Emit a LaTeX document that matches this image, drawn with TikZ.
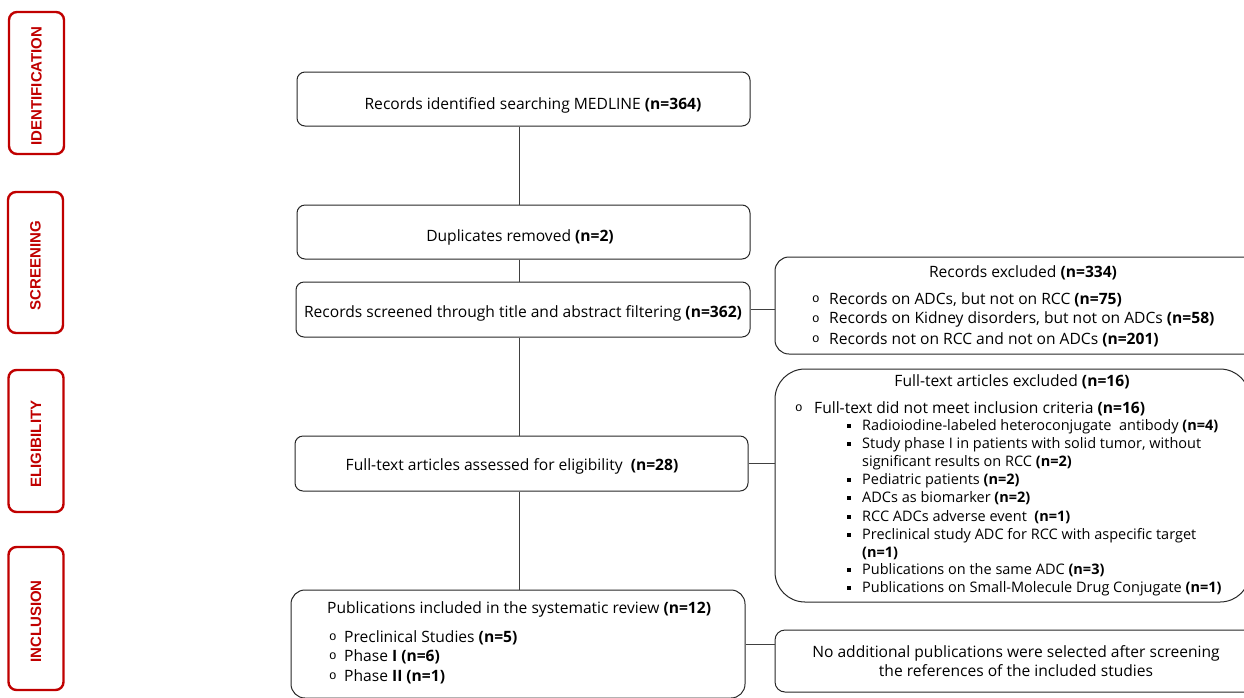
\documentclass[tikz,border=0pt]{standalone}
\usepackage{fontspec}
\setmainfont{Open Sans}
\newfontfamily\stagefont{Liberation Sans}
\newfontfamily\bulfont{Liberation Mono}
\definecolor{stagered}{HTML}{C00000}
\definecolor{boxline}{HTML}{262626}
\definecolor{conline}{HTML}{404040}
\newcommand{\nb}[1]{\textbf{#1}}
\newcommand{\cbul}{{\bulfont\fontsize{12.5}{12}\selectfont o}}
\newcommand{\sbul}{\rule[1.8pt]{4.2pt}{4.2pt}}
\begin{document}
\begin{tikzpicture}[x=1pt,y=-1pt,
  stagebox/.style={draw=stagered,line width=2.4pt,rounded corners=8pt,minimum width=55pt,inner sep=0pt},
  stagetext/.style={text=stagered,font=\stagefont\bfseries\fontsize{15}{15}\selectfont,rotate=90,inner sep=0pt},
  mainbox/.style={draw=boxline,line width=1pt,rounded corners=8pt,inner sep=0pt},
  sidebox/.style={draw=boxline,line width=1pt,inner sep=0pt},
  txt/.style={inner sep=0pt,yshift=-1.5pt,font=\fontsize{15.6}{19}\selectfont},
  stxt/.style={inner sep=0pt,yshift=-1.5pt,font=\fontsize{14.5}{18}\selectfont},
  conn/.style={draw=conline,line width=0.9pt}]
\useasboundingbox (0,0) rectangle (1244,697);
\begin{scope}
\clip (0,0) rectangle (1244,697);
% stage boxes
\node[stagebox,minimum height=142pt] (s1) at (36.5,83) {};
\node[stagetext] (t1) at ([yshift=-3pt]s1.center) {IDENTIFICATION};
\node[stagebox,minimum height=141pt] (s2) at (35.5,262.5) {};
\node[stagetext] (t2) at ([yshift=-3pt]s2.center) {SCREENING};
\node[stagebox,minimum height=142pt] (s3) at (36,441) {};
\node[stagetext] (t3) at ([yshift=-3pt]s3.center) {ELIGIBILITY};
\node[stagebox,minimum height=143pt] (s4) at (36,618.5) {};
\node[stagetext] (t4) at ([yshift=-3pt]s4.center) {INCLUSION};
% main boxes
\node[mainbox,minimum width=453pt,minimum height=54pt] (A) at (523.5,99) {};
\node[txt] at (533,104) {Records identified searching MEDLINE \nb{(n=364)}};
\node[mainbox,minimum width=453pt,minimum height=54pt] (B) at (523.5,232) {};
\node[txt] at (520,236) {Duplicates removed \nb{(n=2)}};
\node[mainbox,minimum width=454pt,minimum height=55pt] (C) at (523,309.5) {};
\node[txt] at (523,312) {Records screened through title and abstract filtering \nb{(n=362)}};
\node[mainbox,minimum width=453pt,minimum height=55pt] (D) at (521.5,463.5) {};
\node[txt] at (512,465) {Full-text articles assessed for eligibility\ \ \nb{(n=28)}};
\node[mainbox,rounded corners=14pt,minimum width=454pt,minimum height=108pt] (E) at (518,644) {};
\node[txt,anchor=west] at (327,608) {Publications included in the systematic review \nb{(n=12)}};
\node[txt,anchor=west] at (329,636) {\cbul};
\node[txt,anchor=west] at (344,636) {Preclinical Studies \nb{(n=5)}};
\node[txt,anchor=west] at (329,655) {\cbul};
\node[txt,anchor=west] at (344,655) {Phase \nb{I} \nb{(n=6)}};
\node[txt,anchor=west] at (329,675) {\cbul};
\node[txt,anchor=west] at (344,675) {Phase \nb{II} \nb{(n=1)}};
% side boxes
\node[sidebox,rounded corners=14pt,minimum width=495pt,minimum height=97pt] (F) at (1022.5,305.5) {};
\node[txt] at (1023,271) {Records excluded \nb{(n=334)}};
\node[txt,anchor=west] at (812,298) {\cbul};
\node[txt,anchor=west] at (829,298) {Records on ADCs, but not on RCC \nb{(n=75)}};
\node[txt,anchor=west] at (812,318) {\cbul};
\node[txt,anchor=west] at (829,318) {Records on Kidney disorders, but not on ADCs \nb{(n=58)}};
\node[txt,anchor=west] at (812,338) {\cbul};
\node[txt,anchor=west] at (829,338) {Records not on RCC and not on ADCs \nb{(n=201)}};
\node[sidebox,rounded corners=30pt,minimum width=475pt,minimum height=233pt] (G) at (1012.5,485.5) {};
\node[txt] at (1012,380) {Full-text articles excluded \nb{(n=16)}};
\node[txt,anchor=west] at (795,407) {\cbul};
\node[txt,anchor=west] at (814,407) {Full-text did not meet inclusion criteria \nb{(n=16)}};
\foreach \yy/\tx in {425/{Radioiodine-labeled heteroconjugate\ \ antibody \nb{(n=4)}},
  443/{Study phase I in patients with solid tumor, without},
  479/{Pediatric patients \nb{(n=2)}},
  497/{ADCs as biomarker \nb{(n=2)}},
  516/{RCC ADCs adverse event\ \ \nb{(n=1)}},
  534/{Preclinical study ADC for RCC with aspecific target},
  569/{Publications on the same ADC \nb{(n=3)}},
  587/{Publications on Small-Molecule Drug Conjugate \nb{(n=1)}}}{
  \node[stxt,anchor=west] at (847,\yy) {\sbul};
  \node[stxt,anchor=west] at (862,\yy) {\tx};
}
\node[stxt,anchor=west] at (862,461) {significant results on RCC \nb{(n=2)}};
\node[stxt,anchor=west] at (862,552) {\nb{(n=1)}};
\node[sidebox,rounded corners=10pt,minimum width=482pt,minimum height=62pt] (H) at (1016,661) {};
\node[txt,align=center] at (1016,659.5) {No additional publications were selected after screening\\the references of the included studies};
% connectors
\coordinate (vx) at (519,0);
\draw[conn] (vx |- A.south) -- (vx |- B.north);
\draw[conn] (vx |- B.south) -- (vx |- C.north);
\draw[conn] (vx |- C.south) -- (vx |- D.north);
\draw[conn] (vx |- D.south) -- (vx |- E.north);
\draw[conn] (C.east) -- (C.east -| F.west);
\draw[conn] (D.east) -- (D.east -| G.west);
\draw[conn] (E.east) -- (E.east -| H.west);
\end{scope}
\end{tikzpicture}
\end{document}
